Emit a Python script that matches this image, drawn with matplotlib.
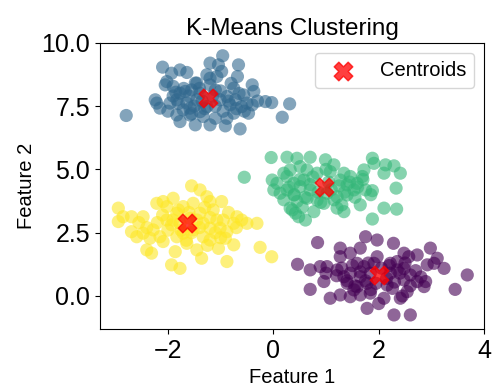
import numpy as np
import matplotlib
matplotlib.use("Agg")
import matplotlib.pyplot as plt

plt.rcParams['font.family'] = ['Liberation Sans', 'DejaVu Sans']

# cluster 1 (top, blue)
blue_x = [-2.79, -2.10, -1.77, -1.64, -2.02, -2.05, -2.24, -2.21, -2.15, -1.96, -1.77, -1.71,
          -1.77, -1.48, -1.45, -1.55, -1.39, -1.20, -0.96, -1.04, -1.07, -1.26, -1.20, -0.98,
          -0.66, -0.68, -0.75, -0.40, -0.37, -0.56, -0.50, -0.40, -0.15, -0.03, 0.31, 0.17,
          -0.63, -0.47, -0.75, -0.88, -0.91, -1.20, -1.10, -1.33, -1.58, -1.64, -1.83, -1.45,
          -1.01, -0.88, -0.82, -1.10, -1.39, -1.67, -1.90, -1.93, -0.60, -0.72, -1.58, -1.26,
          -1.83, -1.48,
          -1.90, -1.80, -1.70, -1.60, -1.50, -1.40, -1.35, -1.30, -1.15, -1.10, -1.00, -0.95,
          -0.85, -0.70, -0.65, -0.55, -1.55, -2.00, -1.85, -1.20, -0.80, -0.30]
blue_y = [7.13, 9.04, 8.93, 8.83, 8.47, 8.34, 7.75, 7.62, 7.42, 7.62, 8.01, 7.35,
          6.89, 6.76, 8.41, 8.14, 7.28, 9.20, 9.49, 9.13, 8.67, 8.74, 8.34, 8.87,
          9.13, 8.67, 8.21, 8.34, 8.08, 7.94, 7.62, 7.55, 7.68, 7.64, 7.59, 7.06,
          6.60, 7.22, 7.22, 7.02, 6.72, 6.76, 7.02, 7.09, 7.15, 7.62, 7.75, 7.75,
          7.75, 7.88, 7.55, 8.14, 8.01, 8.08, 8.28, 8.80, 7.48, 7.75, 7.42, 7.48,
          7.15, 8.41,
          7.90, 7.60, 8.20, 7.90, 7.50, 8.20, 7.70, 7.40, 7.90, 7.50, 8.10, 7.30,
          7.70, 7.40, 8.00, 7.30, 7.20, 7.30, 8.05, 8.60, 8.40, 7.70]

# cluster 2 (middle right, green)
green_x = [-0.55, -0.04, 0.26, 0.45, 0.70, 0.99, 1.15, 1.88, 1.91, 2.13, 2.29, 2.41,
           2.10, 1.72, 1.69, 2.33, 1.88, 2.10, 2.34, 1.88, 1.65, 1.34, 1.21, 0.96,
           0.77, 0.61, 0.48, 0.36, 0.45, 0.13, 0.01, -0.02, 0.20, 0.32, 0.51, 0.64,
           0.83, 1.08, 1.34, 1.46, 1.59, 1.53, 1.40, 1.21, 1.02, 0.70, 0.51, 0.39,
           0.58, 0.26, 0.39, 0.64, 0.83, 1.27, 1.40, 1.75, 0.32, 0.42, 0.26, 0.07,
           0.30, 0.40, 0.50, 0.60, 0.70, 0.75, 0.85, 0.90, 1.05, 1.10, 1.15, 1.25,
           1.35, 1.45, 1.55, 1.60, 1.70, 0.55, 1.00, 0.20, 1.85, 1.30]
green_y = [4.69, 5.47, 5.48, 5.44, 5.48, 5.38, 5.18, 5.44, 5.24, 5.18, 5.14, 4.85,
           4.85, 4.98, 4.72, 4.26, 4.16, 3.47, 3.43, 3.04, 3.60, 3.33, 3.47, 3.66,
           3.33, 3.00, 3.13, 3.40, 3.73, 4.06, 4.19, 4.58, 4.85, 4.98, 5.11, 4.98,
           4.85, 4.91, 4.85, 4.72, 4.45, 4.19, 3.99, 3.92, 4.06, 4.19, 4.32, 4.45,
           4.58, 4.19, 3.99, 3.86, 3.79, 4.58, 4.39, 4.19, 3.47, 3.27, 4.72, 4.45,
           4.30, 4.00, 4.60, 3.90, 4.40, 4.70, 4.10, 3.70, 4.50, 4.20, 3.80, 4.35,
           4.10, 4.50, 3.90, 4.30, 4.60, 3.50, 5.00, 3.80, 4.00, 3.60]

# cluster 3 (middle left, yellow)
yellow_x = [-2.94, -2.94, -2.85, -2.69, -2.47, -2.69, -2.59, -2.40, -2.31, -2.47, -2.28, -2.21,
            -2.09, -1.90, -1.55, -1.39, -1.26, -0.98, -1.14, -0.69, -0.50, -0.31, -0.75, -0.88,
            -0.91, -0.75, -1.04, -1.20, -1.36, -1.45, -1.86, -1.93, -1.77, -0.88, -0.25, -0.03,
            -2.09, -2.15, -2.02, -1.83, -1.71, -1.52, -1.39, -1.33, -1.52, -1.71, -1.83, -1.64,
            -1.33, -1.07, -1.20, -1.93, -2.34, -1.58, -1.77, -1.01, -2.02, -1.20,
            -2.20, -2.10, -2.00, -1.90, -1.80, -1.75, -1.60, -1.55, -1.45, -1.40, -1.30, -1.20,
            -1.10, -0.95, -0.85, -0.70, -1.65, -2.40, -1.25, -0.60, -2.55, -1.00]
yellow_y = [3.47, 2.94, 3.13, 3.13, 3.13, 2.54, 2.34, 1.82, 1.69, 2.48, 2.61, 3.66,
            3.73, 3.86, 4.35, 4.19, 3.92, 3.73, 3.40, 3.13, 2.87, 2.87, 2.87, 2.54,
            2.28, 2.02, 1.88, 2.21, 1.49, 1.82, 1.75, 1.23, 1.09, 1.36, 1.92, 1.55,
            2.15, 2.34, 3.00, 3.27, 3.53, 3.66, 3.27, 2.87, 2.61, 2.48, 2.34, 2.08,
            2.34, 3.00, 2.68, 2.81, 2.28, 3.07, 2.87, 2.68, 3.53, 3.73,
            2.90, 3.20, 2.60, 3.00, 3.40, 2.60, 3.30, 2.50, 3.00, 2.70, 3.50, 3.10,
            2.50, 3.00, 3.30, 2.70, 2.20, 2.70, 2.00, 3.00, 2.90, 2.30]

# cluster 0 (bottom right, purple)
purple_x = [0.84, 0.46, 0.70, 0.70, 1.08, 0.96, 1.02, 1.27, 1.46, 1.65, 1.75, 1.97,
            2.28, 1.97, 2.48, 2.57, 2.73, 2.98, 3.11, 3.05, 3.24, 3.68, 3.45, 2.86,
            2.89, 2.54, 2.41, 2.29, 2.60, 1.78, 2.10, 2.26, 1.84, 1.65, 1.46, 1.27,
            1.40, 1.34, 1.46, 1.65, 1.72, 1.78, 1.59, 1.84, 2.22, 2.35, 2.48, 2.60,
            2.48, 2.73, 2.35, 2.22, 1.91, 1.59, 1.21, 0.89, 1.27, 2.92, 1.53, 2.16,
            1.20, 1.30, 1.40, 1.50, 1.55, 1.65, 1.75, 1.80, 1.85, 1.95, 2.05, 2.15,
            2.20, 2.30, 2.40, 2.50, 2.60, 2.70, 2.80, 1.00, 2.00, 2.45]
purple_y = [2.11, 1.25, 1.03, 0.26, -0.09, 0.57, 1.16, 1.89, 1.69, 1.89, 2.34, 2.21,
            2.08, 1.55, 1.69, 1.55, 1.62, 1.89, 1.49, 1.29, 1.09, 0.83, 0.26, 0.37,
            0.57, 0.17, -0.09, -0.75, -0.75, -0.49, -0.09, 0.30, 0.11, 0.04, -0.03, 0.04,
            0.50, 0.76, 0.90, 0.76, 1.16, 0.50, 0.37, 0.90, 0.90, 1.03, 1.09, 0.83,
            0.63, 0.57, 1.36, 1.29, 1.29, 1.29, 1.03, 1.16, 1.55, 1.23, 0.24, 0.43,
            0.80, 1.10, 0.60, 1.20, 0.40, 0.95, 0.60, 1.30, 0.25, 0.50, 1.10, 0.70,
            1.20, 0.55, 0.90, 1.30, 0.40, 1.00, 0.75, 0.90, -0.30, 0.00]

centroid_x = [2.00, -1.23, 0.96, -1.63]
centroid_y = [0.83, 7.84, 4.32, 2.87]

xs = purple_x + blue_x + green_x + yellow_x
ys = purple_y + blue_y + green_y + yellow_y
labels = ([0] * len(purple_x) + [1] * len(blue_x) + [2] * len(green_x) + [3] * len(yellow_x))

fig = plt.figure(figsize=(4.92, 3.86), dpi=100)
ax = fig.add_axes([0.203, 0.148, 0.781, 0.741])

ax.scatter(xs, ys, c=labels, cmap='viridis', s=90, alpha=0.6, edgecolors='none')
ax.scatter(centroid_x, centroid_y, c='red', marker='X', s=180, alpha=0.75, label='Centroids')

ax.set_xlim(-3.29, 4.0)
ax.set_ylim(-1.3, 10.0)
ax.set_xticks([-2, 0, 2, 4])
ax.set_yticks([0.0, 2.5, 5.0, 7.5, 10.0])
ax.tick_params(labelsize=18)
ax.set_title('K-Means Clustering', fontsize=17.5)
ax.set_xlabel('Feature 1', fontsize=14.5)
ax.set_ylabel('Feature 2', fontsize=14.5)
ax.legend(loc='upper right', fontsize=14.5)

fig.savefig('out.png', dpi=100)
